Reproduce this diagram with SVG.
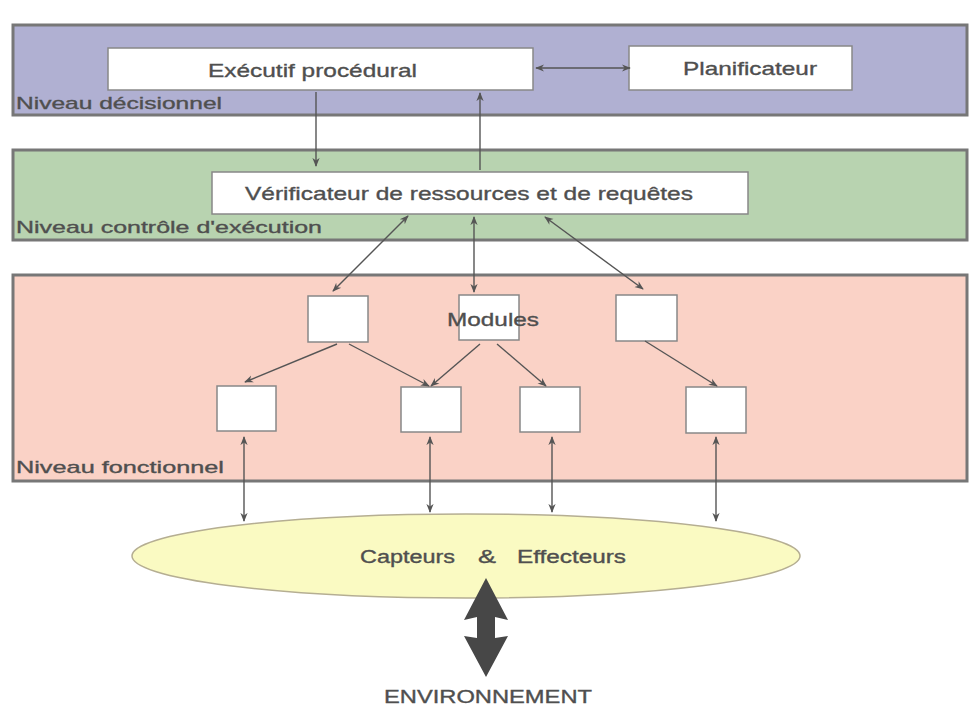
<svg xmlns="http://www.w3.org/2000/svg" width="970" height="710" viewBox="0 0 970 710">
<defs>
<marker id="ah" viewBox="0 0 10 10" refX="9" refY="5" markerWidth="9" markerHeight="9" markerUnits="userSpaceOnUse" orient="auto-start-reverse">
<path d="M0,1 L10,5 L0,9 L3,5 Z" fill="#555"/>
</marker>
</defs>
<style>
.band{stroke:#777;stroke-width:3}
.box{fill:#fff;stroke:#888;stroke-width:1.5}
.t{font-family:"Liberation Sans",Arial,sans-serif;fill:#4f4f4f;stroke:#4f4f4f;stroke-width:0.35}
.lbl{font-size:17px}
.c{stroke:#555;stroke-width:1.4;fill:none}
</style>
<rect width="970" height="710" fill="#fff"/>
<g id="niveau-decisionnel">
<rect class="band" x="13" y="25" width="954" height="90" fill="#b0b0d2"/>
<text class="t lbl" x="16" y="109" textLength="206" lengthAdjust="spacingAndGlyphs">Niveau décisionnel</text>
</g>
<g id="niveau-controle">
<rect class="band" x="13" y="150" width="954" height="90" fill="#b8d3b0"/>
<text class="t lbl" x="16" y="233" textLength="306" lengthAdjust="spacingAndGlyphs">Niveau contrôle d'exécution</text>
</g>
<g id="niveau-fonctionnel">
<rect class="band" x="13" y="275" width="954" height="206" fill="#fad2c6"/>
<text class="t lbl" x="16" y="473" textLength="208" lengthAdjust="spacingAndGlyphs">Niveau fonctionnel</text>
</g>
<g id="executif">
<rect class="box" x="108" y="48" width="425" height="42"/>
<text class="t" font-size="19" x="208" y="77" textLength="209" lengthAdjust="spacingAndGlyphs">Exécutif procédural</text>
</g>
<g id="planificateur">
<rect class="box" x="629" y="46" width="223" height="44"/>
<text class="t" font-size="19" x="683" y="75" textLength="134" lengthAdjust="spacingAndGlyphs">Planificateur</text>
</g>
<g id="verificateur">
<rect class="box" x="212" y="172" width="536" height="42"/>
<text class="t" font-size="19" x="245" y="200" textLength="448" lengthAdjust="spacingAndGlyphs">Vérificateur de ressources et de requêtes</text>
</g>
<g id="m1"><rect class="box" x="308" y="296" width="60" height="46"/></g>
<g id="m2"><rect class="box" x="459" y="295" width="60" height="45"/></g>
<g id="m3"><rect class="box" x="616" y="295" width="61" height="46"/></g>
<g id="m4"><rect class="box" x="217" y="386" width="59" height="45"/></g>
<g id="m5"><rect class="box" x="401" y="387" width="60" height="45"/></g>
<g id="m6"><rect class="box" x="520" y="387" width="60" height="45"/></g>
<g id="m7"><rect class="box" x="686" y="387" width="60" height="46"/></g>
<g id="modules-label">
<text class="t" font-size="19" x="447" y="326" textLength="92" lengthAdjust="spacingAndGlyphs">Modules</text>
</g>
<g id="capteurs">
<ellipse cx="466" cy="556" rx="334" ry="42" fill="#fafac2" stroke="#b5ae92" stroke-width="1.5"/>
<text class="t" font-size="18" x="360" y="563" textLength="95" lengthAdjust="spacingAndGlyphs">Capteurs</text>
<text class="t" font-size="18" x="478" y="563" textLength="18" lengthAdjust="spacingAndGlyphs">&amp;</text>
<text class="t" font-size="18" x="517" y="563" textLength="109" lengthAdjust="spacingAndGlyphs">Effecteurs</text>
</g>
<g id="environnement">
<text class="t" font-size="18" x="384" y="703" textLength="208" lengthAdjust="spacingAndGlyphs">ENVIRONNEMENT</text>
</g>
<g id="connectors">
<line class="c" x1="536" y1="68" x2="630" y2="68" marker-start="url(#ah)" marker-end="url(#ah)"/>
<line class="c" x1="316" y1="92" x2="316" y2="166" marker-end="url(#ah)"/>
<line class="c" x1="480" y1="170" x2="480" y2="93" marker-end="url(#ah)"/>
<line class="c" x1="408" y1="216" x2="333" y2="291" marker-start="url(#ah)" marker-end="url(#ah)"/>
<line class="c" x1="474" y1="217" x2="474" y2="292" marker-start="url(#ah)" marker-end="url(#ah)"/>
<line class="c" x1="545" y1="217" x2="643" y2="289" marker-start="url(#ah)" marker-end="url(#ah)"/>
<line class="c" x1="337" y1="344" x2="245" y2="382" marker-end="url(#ah)"/>
<line class="c" x1="349" y1="344" x2="429" y2="386" marker-end="url(#ah)"/>
<line class="c" x1="480" y1="344" x2="431" y2="386" marker-end="url(#ah)"/>
<line class="c" x1="497" y1="344" x2="546" y2="386" marker-end="url(#ah)"/>
<line class="c" x1="645" y1="341" x2="717" y2="386" marker-end="url(#ah)"/>
<line class="c" x1="244" y1="437" x2="244" y2="521" marker-start="url(#ah)" marker-end="url(#ah)"/>
<line class="c" x1="430" y1="437" x2="430" y2="512" marker-start="url(#ah)" marker-end="url(#ah)"/>
<line class="c" x1="552" y1="437" x2="552" y2="512" marker-start="url(#ah)" marker-end="url(#ah)"/>
<line class="c" x1="716" y1="437" x2="716" y2="521" marker-start="url(#ah)" marker-end="url(#ah)"/>
<path d="M486,578 L508,620 L495,617 L495,638 L508,636 L486,677 L464,636 L477,638 L477,617 L464,620 Z" fill="#474747"/>
</g>
</svg>
